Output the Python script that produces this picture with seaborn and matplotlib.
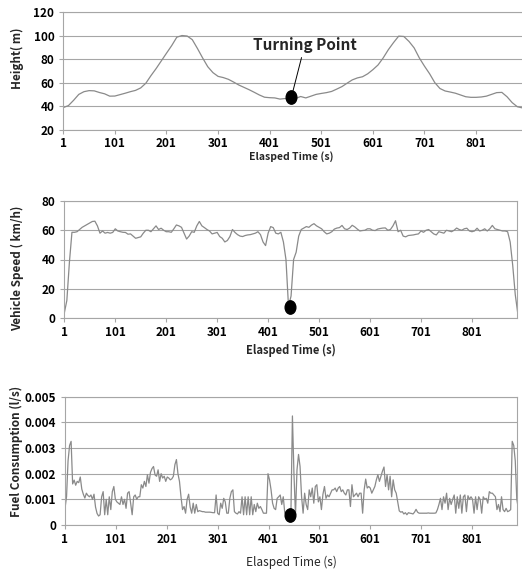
import numpy as np
import pandas as pd
import matplotlib
matplotlib.use('Agg')
import matplotlib.pyplot as plt
import seaborn as sns
from matplotlib.path import Path
from matplotlib.transforms import Affine2D

# --- Data ---
# Height (m), one value every 10 s starting at t = 1
height_step = 10
height_m = [
    38.8, 40.5, 45.0, 50.0, 52.3, 53.2, 53.0, 51.6, 50.5, 48.5,
    48.6, 49.8, 51.0, 52.3, 53.4, 55.5, 59.5, 66.0, 72.0, 78.5,
    85.0, 91.4, 98.6, 100.0, 99.6, 96.5, 89.0, 81.0, 73.5, 68.5,
    65.3, 64.3, 62.8, 60.5, 58.0, 56.0, 54.0, 51.8, 49.5, 47.6,
    47.2, 47.0, 46.0, 46.5, 45.5, 46.5, 48.2, 47.0, 48.5, 50.0,
    50.8, 51.5, 52.5, 54.5, 56.6, 59.5, 62.3, 64.0, 65.0, 67.5,
    71.0, 75.0, 81.0, 88.0, 94.0, 99.5, 99.2, 95.0, 89.5, 81.0,
    74.0, 67.5, 60.0, 55.0, 52.9, 52.0, 51.0, 49.5, 48.0, 47.5,
    47.5, 47.8, 48.5, 50.0, 51.5, 51.7, 48.0, 43.0, 39.5, 38.5,
]

# Vehicle speed (km/h), one value every 5 s starting at t = 1
speed_step = 5
speed_kmh = [
    3.4, 12.0, 38.0, 58.6, 58.6, 59.0, 60.5, 62.0, 63.0, 64.0,
    65.0, 66.0, 66.2, 63.0, 58.0, 59.5, 58.0, 58.5, 58.0, 58.5,
    61.0, 59.5, 59.0, 58.6, 58.5, 57.3, 57.5, 56.0, 54.5, 55.0,
    55.5, 58.0, 60.0, 60.0, 59.0, 61.0, 63.0, 60.5, 61.4, 60.0,
    59.0, 59.0, 58.6, 61.0, 63.6, 63.0, 62.0, 58.0, 54.0, 56.0,
    59.0, 58.6, 63.0, 66.0, 63.0, 61.8, 60.5, 59.5, 57.5, 58.0,
    58.5, 55.7, 54.5, 52.0, 53.0, 55.7, 60.5, 58.5, 57.0, 56.0,
    55.7, 56.4, 56.8, 57.0, 57.5, 58.0, 59.0, 57.0, 52.0, 49.5,
    58.0, 62.5, 61.8, 58.0, 57.5, 58.6, 52.0, 40.0, 8.0, 15.0,
    40.0, 45.0, 56.0, 60.5, 61.5, 62.5, 62.0, 63.5, 64.5, 63.0,
    62.0, 61.0, 59.0, 57.5, 58.0, 59.0, 60.8, 61.5, 61.8, 63.3,
    61.0, 60.5, 61.5, 63.4, 62.3, 60.8, 59.5, 59.8, 60.0, 61.0,
    61.0, 60.0, 59.8, 60.8, 61.2, 61.5, 61.6, 60.0, 60.5, 63.0,
    66.5, 59.0, 60.0, 56.0, 55.5, 56.4, 56.6, 56.8, 57.2, 57.5,
    59.5, 58.6, 60.0, 60.5, 59.0, 57.5, 56.8, 59.0, 58.5, 58.0,
    60.0, 59.5, 59.0, 60.0, 61.5, 60.5, 60.0, 61.0, 61.4, 59.5,
    59.0, 59.5, 61.4, 59.5, 60.0, 61.0, 59.5, 61.0, 63.3, 61.0,
    60.5, 60.0, 59.5, 59.5, 59.0, 52.0, 36.0, 16.0, 3.0,
]

# Fuel consumption (10^-3 l/s), one value every 3 s starting at t = 1
fuel_step = 3
fuel_mls = [
    0.65, 1.1, 2.5, 3.1, 3.26, 1.6, 1.75, 1.55, 1.7, 1.65,
    1.87, 1.4, 1.2, 1.05, 1.24, 1.15, 1.1, 1.17, 1.0, 1.2,
    0.7, 0.45, 0.35, 0.4, 1.1, 1.3, 0.4, 1.0, 0.4, 1.1,
    0.6, 1.3, 1.5, 1.0, 0.9, 0.85, 0.8, 1.1, 0.8, 1.0,
    0.65, 1.24, 1.3, 0.85, 0.4, 1.1, 1.17, 1.0, 1.1, 1.1,
    1.57, 1.44, 1.7, 1.5, 1.96, 1.63, 2.05, 2.2, 2.28, 1.95,
    1.9, 2.15, 1.7, 2.0, 1.83, 1.9, 1.7, 1.87, 1.83, 1.76,
    1.8, 1.9, 2.35, 2.55, 2.0, 1.7, 1.1, 0.6, 0.72, 0.46,
    1.0, 1.2, 0.7, 0.46, 0.85, 0.46, 0.8, 0.52, 0.56, 0.54,
    0.52, 0.52, 0.5, 0.5, 0.5, 0.5, 0.49, 0.48, 0.48, 1.17,
    0.46, 0.4, 0.85, 0.65, 1.04, 0.9, 0.46, 0.46, 1.04, 1.3,
    1.37, 0.52, 0.46, 0.43, 0.52, 0.46, 1.1, 0.4, 1.1, 0.4,
    1.1, 0.4, 1.1, 0.4, 0.8, 0.52, 0.85, 0.65, 0.72, 0.6,
    0.46, 0.46, 0.46, 2.0, 1.76, 1.37, 0.85, 0.65, 0.6, 1.04,
    1.1, 1.17, 0.8, 1.1, 0.46, 0.52, 0.45, 0.35, 0.4, 4.25,
    2.0, 0.4, 2.15, 2.75, 2.28, 1.1, 0.46, 1.24, 0.8, 0.6,
    1.37, 1.1, 1.44, 0.85, 1.5, 1.57, 0.9, 1.1, 0.6, 1.2,
    1.5, 1.04, 1.17, 1.1, 1.24, 1.37, 1.37, 1.44, 1.3, 1.44,
    1.5, 1.3, 1.37, 1.24, 1.17, 1.37, 1.37, 0.72, 1.57, 1.1,
    1.17, 1.24, 1.1, 1.24, 1.24, 0.46, 1.37, 1.79, 1.44, 1.5,
    1.44, 1.24, 1.37, 1.5, 1.76, 1.96, 1.7, 1.9, 2.1, 2.26,
    1.5, 1.96, 1.37, 1.9, 1.1, 1.76, 1.37, 1.24, 0.9, 0.55,
    0.5, 0.52, 0.43, 0.48, 0.4, 0.48, 0.46, 0.45, 0.43, 0.5,
    0.61, 0.5, 0.46, 0.46, 0.46, 0.46, 0.46, 0.46, 0.47, 0.46,
    0.46, 0.46, 0.46, 0.47, 0.6, 0.8, 1.04, 0.6, 1.1, 0.85,
    1.24, 0.6, 1.04, 0.8, 1.0, 1.17, 0.46, 1.1, 0.65, 1.17,
    0.46, 1.1, 1.17, 0.52, 1.14, 1.0, 1.1, 1.0, 0.46, 1.1,
    0.6, 1.1, 1.0, 0.46, 1.1, 1.0, 1.04, 0.85, 1.3, 1.24,
    1.24, 1.17, 1.1, 0.6, 0.8, 0.52, 1.1, 0.6, 0.52, 0.65,
    0.52, 0.55, 0.6, 3.26, 3.1, 2.5, 1.0, 0.65,
]

# Turning point (marked with a black dot on each panel)
turn_t = 443
turn_height = 47.5
turn_speed = 7.3
turn_fuel = 0.00038

x_ticks = [1, 101, 201, 301, 401, 501, 601, 701, 801]
height_ticks = [20, 40, 60, 80, 100, 120]
speed_ticks = [0, 20, 40, 60, 80]
fuel_ticks = [0, 0.001, 0.002, 0.003, 0.004, 0.005]
fuel_tick_labels = ['0', '0.001', '0.002', '0.003', '0.004', '0.005']

# --- Frames ---
def series(values, step, scale=1.0):
    t = 1 + step * np.arange(len(values))
    return pd.DataFrame({'t': t, 'v': np.asarray(values) * scale})

height_df = series(height_m, height_step)
speed_df = series(speed_kmh, speed_step)
fuel_df = series(fuel_mls, fuel_step, 1e-3)

# --- Style ---
sns.set_theme(style='whitegrid')
plt.rcParams['font.family'] = ['Noto Sans CJK KR', 'DejaVu Sans']
grey = '#a6a6a6'
line_grey = '#8a8a8a'

W, H = 522, 575
fig = plt.figure(figsize=(W / 100, H / 100), dpi=100)

def px_axes(left, top, right, bottom):
    return fig.add_axes([left / W, 1 - bottom / H, (right - left) / W, (bottom - top) / H])

ax1 = px_axes(63.3, 12, 522.5, 129.7)
ax2 = px_axes(64.3, 201, 517.3, 318)
ax3 = px_axes(65, 396.7, 517.3, 525)

# dot shape: slightly taller than wide
dot = Path.unit_circle().transformed(Affine2D().scale(0.8, 1.0))

panels = [
    (ax1, height_df, height_ticks, None, (20, 120), turn_height, 'Height( m)', 58, 17.5),
    (ax2, speed_df, speed_ticks, None, (0, 80), turn_speed, 'Vehicle Speed ( km/h)', 268, 17.5),
    (ax3, fuel_df, fuel_ticks, fuel_tick_labels, (0, 0.005), turn_fuel, 'Fuel Consumption (l/s)', 451, 16.5),
]

for ax, df, yt, ytl, ylim, ty, ylab, ylab_y, ylab_x in panels:
    sns.lineplot(data=df, x='t', y='v', ax=ax, color=line_grey, linewidth=0.9)
    ax.plot([turn_t], [ty], marker=dot, markersize=9.6, color='black', linestyle='none', zorder=5)
    ax.set_xlim(1, 890)
    ax.set_ylim(*ylim)
    ax.set_xticks(x_ticks)
    ax.set_xticklabels([str(v) for v in x_ticks])
    ax.set_yticks(yt)
    if ytl is not None:
        ax.set_yticklabels(ytl)
    ax.set_xlabel('')
    ax.set_ylabel('')
    ax.grid(axis='x', visible=False)
    ax.grid(axis='y', color=grey, linewidth=0.8)
    for s in ax.spines.values():
        s.set_color(grey)
        s.set_linewidth(0.8)
    ax.tick_params(axis='both', bottom=True, left=True, length=3, width=0.8,
                   color=grey, labelsize=8.5, labelcolor='black')
    ax.tick_params(axis='x', pad=2.5)
    ax.tick_params(axis='y', pad=3.5)
    for lab in ax.get_xticklabels() + ax.get_yticklabels():
        lab.set_fontweight('bold')
    fig.text(ylab_x / W, 1 - ylab_y / H, ylab, rotation=90, ha='center', va='center',
             fontsize=8.5, fontweight='bold')

ax1.set_xlim(1, 891)

# x labels, tucked right under the tick labels
for y_px, fs in [(157, 7.5), (350, 8), (562, 8.5)]:
    fig.text(291 / W, 1 - y_px / H, 'Elasped Time (s)', ha='center', va='center',
             fontsize=fs, fontweight='bold' if y_px < 500 else 'normal')

ax1.annotate('Turning Point', xy=(turn_t, turn_height), xytext=(469, 92),
             textcoords='data', ha='center', va='center', fontsize=11, fontweight='bold',
             arrowprops=dict(arrowstyle='-', color='black', lw=0.7, shrinkA=1, shrinkB=4.5))

fig.savefig('out.png', dpi=100)
